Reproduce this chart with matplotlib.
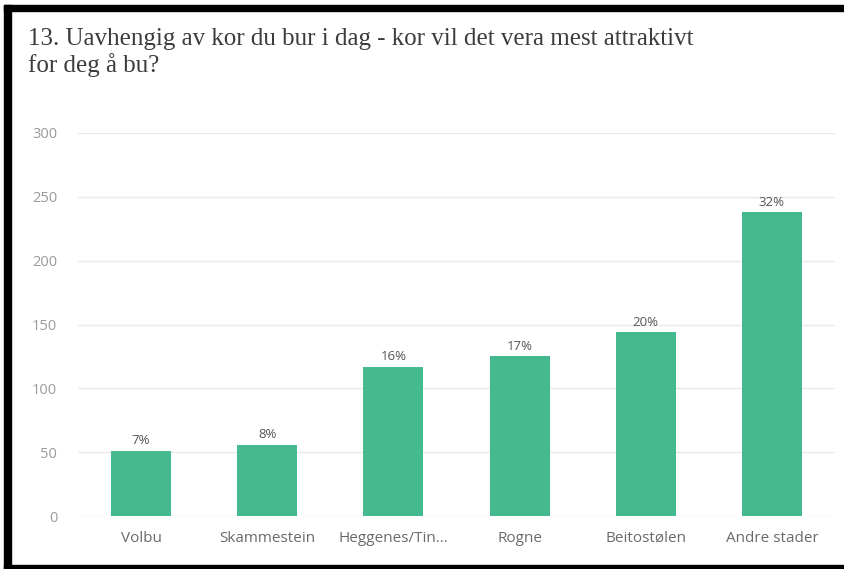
import matplotlib
matplotlib.use("Agg")
import matplotlib.pyplot as plt
from matplotlib.patches import Rectangle

categories = ["Volbu", "Skammestein", "Heggenes/Tin...", "Rogne", "Beitostølen", "Andre stader"]
values = [51, 56, 117, 125, 144, 238]
pct_labels = ["7%", "8%", "16%", "17%", "20%", "32%"]
yticks = [0, 50, 100, 150, 200, 250, 300]
title_lines = ["13. Uavhengig av kor du bur i dag - kor vil det vera mest attraktivt",
               "for deg å bu?"]

W, H = 845, 569
fig = plt.figure(figsize=(W / 100, H / 100), dpi=100)
fig.patch.set_facecolor("white")

ax = fig.add_axes([78 / W, (H - 516) / H, (835 - 78) / W, (516 - 133) / H])
ax.set_facecolor("white")
x = list(range(len(categories)))
bars = ax.bar(x, values, width=0.476, color="#44BA8E", zorder=3)
ax.set_xlim(-0.5, len(categories) - 0.5)
ax.set_ylim(0, 300)
ax.set_yticks(yticks)
ax.set_yticklabels([str(t) for t in yticks], fontfamily="Open Sans", fontsize=10.5, color="#9a9a9a")
ax.set_xticks(x)
ax.set_xticklabels(categories, fontfamily="Open Sans", fontsize=11, color="#6a6a6a")
ax.tick_params(axis="y", length=0, pad=15)
ax.tick_params(axis="x", length=0, pad=10.5)
ax.grid(axis="y", color="#e9e9e9", linewidth=1, zorder=0)
for s in ax.spines.values():
    s.set_visible(False)

for b, lab in zip(bars, pct_labels):
    ax.annotate(lab, (b.get_x() + b.get_width() / 2, b.get_height()),
                xytext=(0, 2.5), textcoords="offset points",
                ha="center", va="bottom", fontsize=9.5, color="#555555",
                fontfamily="Open Sans")

fig.text(28 / W, 1 - 45 / H, title_lines[0], ha="left", va="baseline",
         fontfamily="Liberation Serif", fontsize=18, color="#3c3c3c")
fig.text(28 / W, 1 - 72 / H, title_lines[1], ha="left", va="baseline",
         fontfamily="Liberation Serif", fontsize=18, color="#3c3c3c")

# border frame
fig.add_artist(Rectangle((4 / W, 0), 7 / W, 1 - 5 / H, transform=fig.transFigure, color="black", zorder=10))
fig.add_artist(Rectangle((4 / W, 1 - 11 / H), 1 - 4 / W, 6 / H, transform=fig.transFigure, color="black", zorder=10))
fig.add_artist(Rectangle((4 / W, 0), 1 - 4 / W, 4 / H, transform=fig.transFigure, color="black", zorder=10))

fig.savefig("out.png", dpi=100, facecolor="white")
